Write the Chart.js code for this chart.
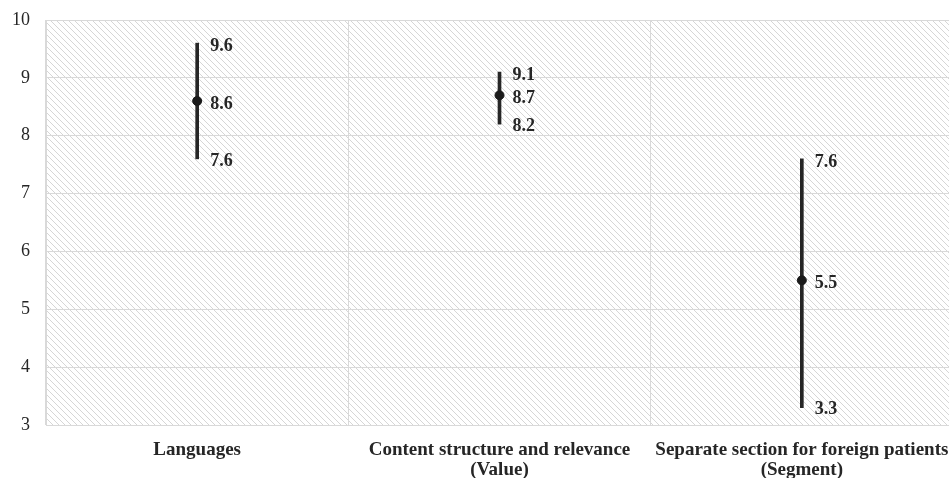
<!DOCTYPE html>
<html>
<head>
<meta charset="utf-8">
<script src="https://cdn.jsdelivr.net/npm/chart.js@4/dist/chart.umd.min.js"></script>
<style>
  html, body { margin: 0; padding: 0; background: #fff; overflow: hidden; }
  #wrap { width: 953px; height: 478px; }
</style>
</head>
<body>
<div id="wrap"><canvas id="chart"></canvas></div>
<script>
// data
const categories = [
  ['Languages'],
  ['Content structure and relevance', '(Value)'],
  ['Separate section for foreign patients', '(Segment)']
];
const meanValues = [8.6, 8.7, 5.5];
const highValues = [9.6, 9.1, 7.6];
const lowValues = [7.6, 8.2, 3.3];
const yTicks = [3, 4, 5, 6, 7, 8, 9, 10];

const serif = "'Liberation Serif', 'Times New Roman', serif";

// hatched plot background
function makeHatch() {
  const c = document.createElement('canvas');
  c.width = 6; c.height = 6;
  const g = c.getContext('2d');
  g.fillStyle = '#ffffff';
  g.fillRect(0, 0, 6, 6);
  g.strokeStyle = '#d6d6d6';
  g.lineWidth = 1;
  g.beginPath();
  g.moveTo(-1, -1); g.lineTo(7, 7);
  g.moveTo(-1, 5); g.lineTo(1, 7);
  g.moveTo(5, -1); g.lineTo(7, 1);
  g.stroke();
  return g.createPattern(c, 'repeat');
}

const hatchBg = {
  id: 'hatchBg',
  beforeDraw(chart) {
    const { ctx, chartArea: a } = chart;
    ctx.save();
    ctx.fillStyle = makeHatch();
    ctx.fillRect(a.left, a.top, a.right - a.left, a.bottom - a.top);
    ctx.restore();
  }
};

// value labels to the right of each range line
const valueLabels = {
  id: 'valueLabels',
  afterDatasetsDraw(chart) {
    const { ctx, scales: { x, y } } = chart;
    ctx.save();
    ctx.font = 'bold 18px ' + serif;
    ctx.fillStyle = '#262626';
    ctx.textAlign = 'left';
    ctx.textBaseline = 'middle';
    categories.forEach((c, i) => {
      const px = x.getPixelForValue(i) + 13;
      ctx.fillText(highValues[i].toFixed(1), px, y.getPixelForValue(highValues[i]) + 3);
      ctx.fillText(meanValues[i].toFixed(1), px, y.getPixelForValue(meanValues[i]) + 3);
      ctx.fillText(lowValues[i].toFixed(1), px, y.getPixelForValue(lowValues[i]) + 2);
    });
    ctx.restore();
  }
};

new Chart(document.getElementById('chart'), {
  type: 'bar',
  data: {
    labels: categories,
    datasets: [
      {
        type: 'line',
        label: 'Mean',
        data: meanValues,
        showLine: false,
        pointRadius: 4.5,
        pointBackgroundColor: '#1a1a1a',
        pointBorderColor: '#1a1a1a',
        order: 0
      },
      {
        label: 'Range',
        data: lowValues.map((v, i) => [v, highValues[i]]),
        backgroundColor: '#262626',
        barThickness: 3,
        order: 1
      }
    ]
  },
  options: {
    responsive: true,
    maintainAspectRatio: false,
    animation: false,
    layout: { autoPadding: false, padding: { top: 20, right: 0, left: 0, bottom: 0 } },
    plugins: {
      legend: { display: false },
      tooltip: { enabled: false }
    },
    scales: {
      x: {
        offset: true,
        afterFit: axis => {
          axis.height = 53;
          axis.paddingLeft = 0;
          axis.paddingRight = 0;
        },
        grid: { color: '#d9d9d9', lineWidth: 1, offset: true, drawTicks: false },
        border: { color: '#d9d9d9' },
        ticks: {
          font: { family: serif, size: 19, weight: 'bold', lineHeight: 1.05 },
          color: '#262626',
          padding: 15,
          maxRotation: 0,
          autoSkip: false
        }
      },
      y: {
        min: 3,
        max: 10,
        afterBuildTicks: axis => { axis.ticks = yTicks.map(v => ({ value: v })); },
        afterFit: axis => {
          axis.width = 46;
          axis.paddingTop = 0;
          axis.paddingBottom = 0;
        },
        grid: { color: '#d9d9d9', lineWidth: 1, drawTicks: false },
        border: { color: '#d9d9d9' },
        ticks: {
          font: { family: serif, size: 18 },
          color: '#262626',
          padding: 16
        }
      }
    }
  },
  plugins: [hatchBg, valueLabels]
});
</script>
</body>
</html>
